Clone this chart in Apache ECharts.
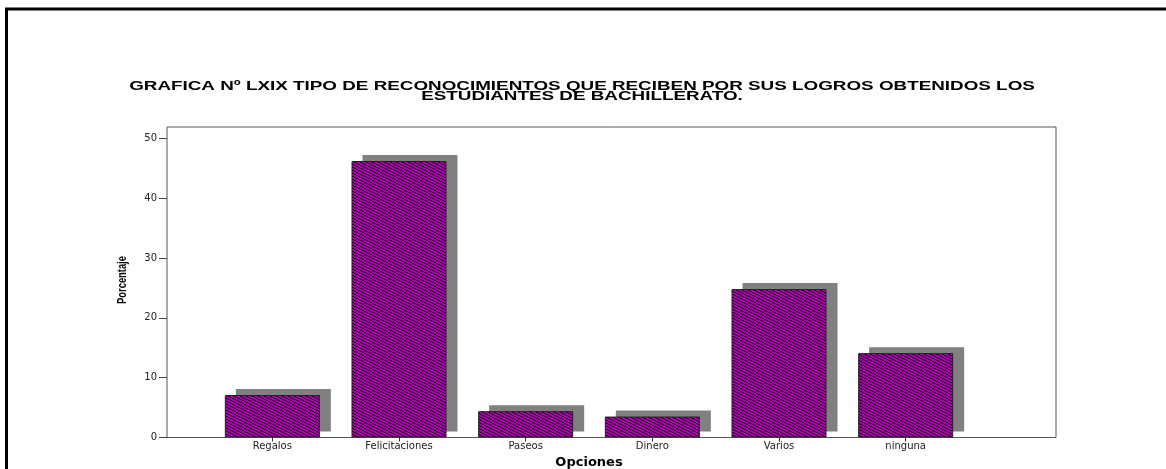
<!DOCTYPE html>
<html>
<head>
<meta charset="utf-8">
<script src="https://cdn.jsdelivr.net/npm/echarts@6/dist/echarts.min.js"></script>
<style>
html,body{margin:0;padding:0;background:#fff;}
#chart{width:1166px;height:469px;}
</style>
</head>
<body>
<div id="chart"></div>
<script>
const titleText = 'GRAFICA Nº LXIX TIPO DE RECONOCIMIENTOS QUE RECIBEN POR SUS LOGROS OBTENIDOS LOS\nESTUDIANTES DE BACHILLERATO.';
const categories = ['Regalos', 'Felicitaciones', 'Paseos', 'Dinero', 'Varios', 'ninguna'];
const porcentaje = [7.1, 46.2, 4.4, 3.5, 24.8, 14.1];
const yTicks = [0, 10, 20, 30, 40, 50];
const xName = 'Opciones';
const yName = 'Porcentaje';

// hatch pattern: magenta with dark "\" stripes
function makePattern() {
  const c = document.createElement('canvas');
  c.width = 6; c.height = 3;
  const ctx = c.getContext('2d');
  const img = ctx.createImageData(6, 3);
  for (let y = 0; y < 3; y++) {
    for (let x = 0; x < 6; x++) {
      const dark = ((x - 2 * y) % 6 + 6) % 6 < 2;
      const i = (y * 6 + x) * 4;
      if (dark) { img.data[i] = 40; img.data[i+1] = 0; img.data[i+2] = 45; }
      else { img.data[i] = 170; img.data[i+1] = 0; img.data[i+2] = 170; }
      img.data[i+3] = 255;
    }
  }
  ctx.putImageData(img, 0, 0);
  return c;
}

const chart = echarts.init(document.getElementById('chart'), null, {renderer: 'canvas'});
const gridBottom = 31.5;
const gridTopBars = 138.3;
const barLeft = 209, barWidthArea = 760;
const shadowDX = 11, shadowDY = -6;
const sans = 'DejaVu Sans, Liberation Sans, Arial, sans-serif';

chart.setOption({
  animation: false,
  backgroundColor: '#ffffff',
  graphic: [
    {type: 'line', shape: {x1: 5, y1: 9, x2: 1166, y2: 9}, style: {stroke: '#000', lineWidth: 3}},
    {type: 'line', shape: {x1: 6.5, y1: 8, x2: 6.5, y2: 469}, style: {stroke: '#000', lineWidth: 3}},
    {type: 'text', x: 582, y: 82, scaleX: 1.57, z: 10,
     style: {text: titleText, textAlign: 'center', textVerticalAlign: 'top',
             font: 'bold 12px "Liberation Sans", Arial, sans-serif', lineHeight: 9.5, fill: '#000'}},
    {type: 'text', x: 122, y: 280, rotation: Math.PI / 2, scaleX: 0.72, z: 10,
     style: {text: yName, textAlign: 'center', textVerticalAlign: 'middle',
             font: 'bold 13px "Liberation Sans", Arial, sans-serif', fill: '#000'}}
  ],
  grid: [
    {left: barLeft, width: barWidthArea, top: gridTopBars, bottom: gridBottom, outerBoundsMode: 'none', containLabel: false},
    {left: 167, right: 110, top: 127, bottom: gridBottom, show: true, borderColor: '#555', borderWidth: 1,
     backgroundColor: 'transparent', z: 0, outerBoundsMode: 'none'},
    {left: barLeft + shadowDX, width: barWidthArea, top: gridTopBars + shadowDY, bottom: gridBottom - shadowDY, outerBoundsMode: 'none'}
  ],
  xAxis: [
    {type: 'category', gridIndex: 0, data: categories, name: xName, nameLocation: 'middle', nameGap: 17,
     nameTextStyle: {fontFamily: sans, fontWeight: 'bold', fontSize: 13, color: '#000'},
     axisLine: {show: false},
     axisTick: {show: true, alignWithLabel: true, length: 4, lineStyle: {color: '#333'}},
     axisLabel: {fontFamily: sans, fontSize: 10, color: '#222', margin: 4}},
    {type: 'value', gridIndex: 1, show: false},
    {type: 'category', gridIndex: 2, data: categories, show: false}
  ],
  yAxis: [
    {type: 'value', gridIndex: 0, min: 0, max: 50, interval: 10, offset: barLeft - 167,
     axisLine: {show: false},
     axisTick: {show: true, length: 8, lineStyle: {color: '#444'}},
     splitLine: {show: false},
     axisLabel: {fontFamily: sans, fontSize: 10, color: '#222', margin: 10,
       formatter: v => yTicks.includes(v) ? String(v) : ''}},
    {type: 'value', gridIndex: 1, show: false, min: 0, max: 1},
    {type: 'value', gridIndex: 2, min: 0, max: 50, show: false}
  ],
  series: [
    {type: 'bar', name: 'sombra', xAxisIndex: 2, yAxisIndex: 2, data: porcentaje, barCategoryGap: '25%', z: 1,
     itemStyle: {color: '#808080'}, silent: true},
    {type: 'bar', name: yName, xAxisIndex: 0, yAxisIndex: 0, data: porcentaje, barCategoryGap: '25%', z: 3,
     itemStyle: {color: {image: makePattern(), repeat: 'repeat'}, borderColor: '#222', borderWidth: 1}}
  ]
});
</script>
</body>
</html>
